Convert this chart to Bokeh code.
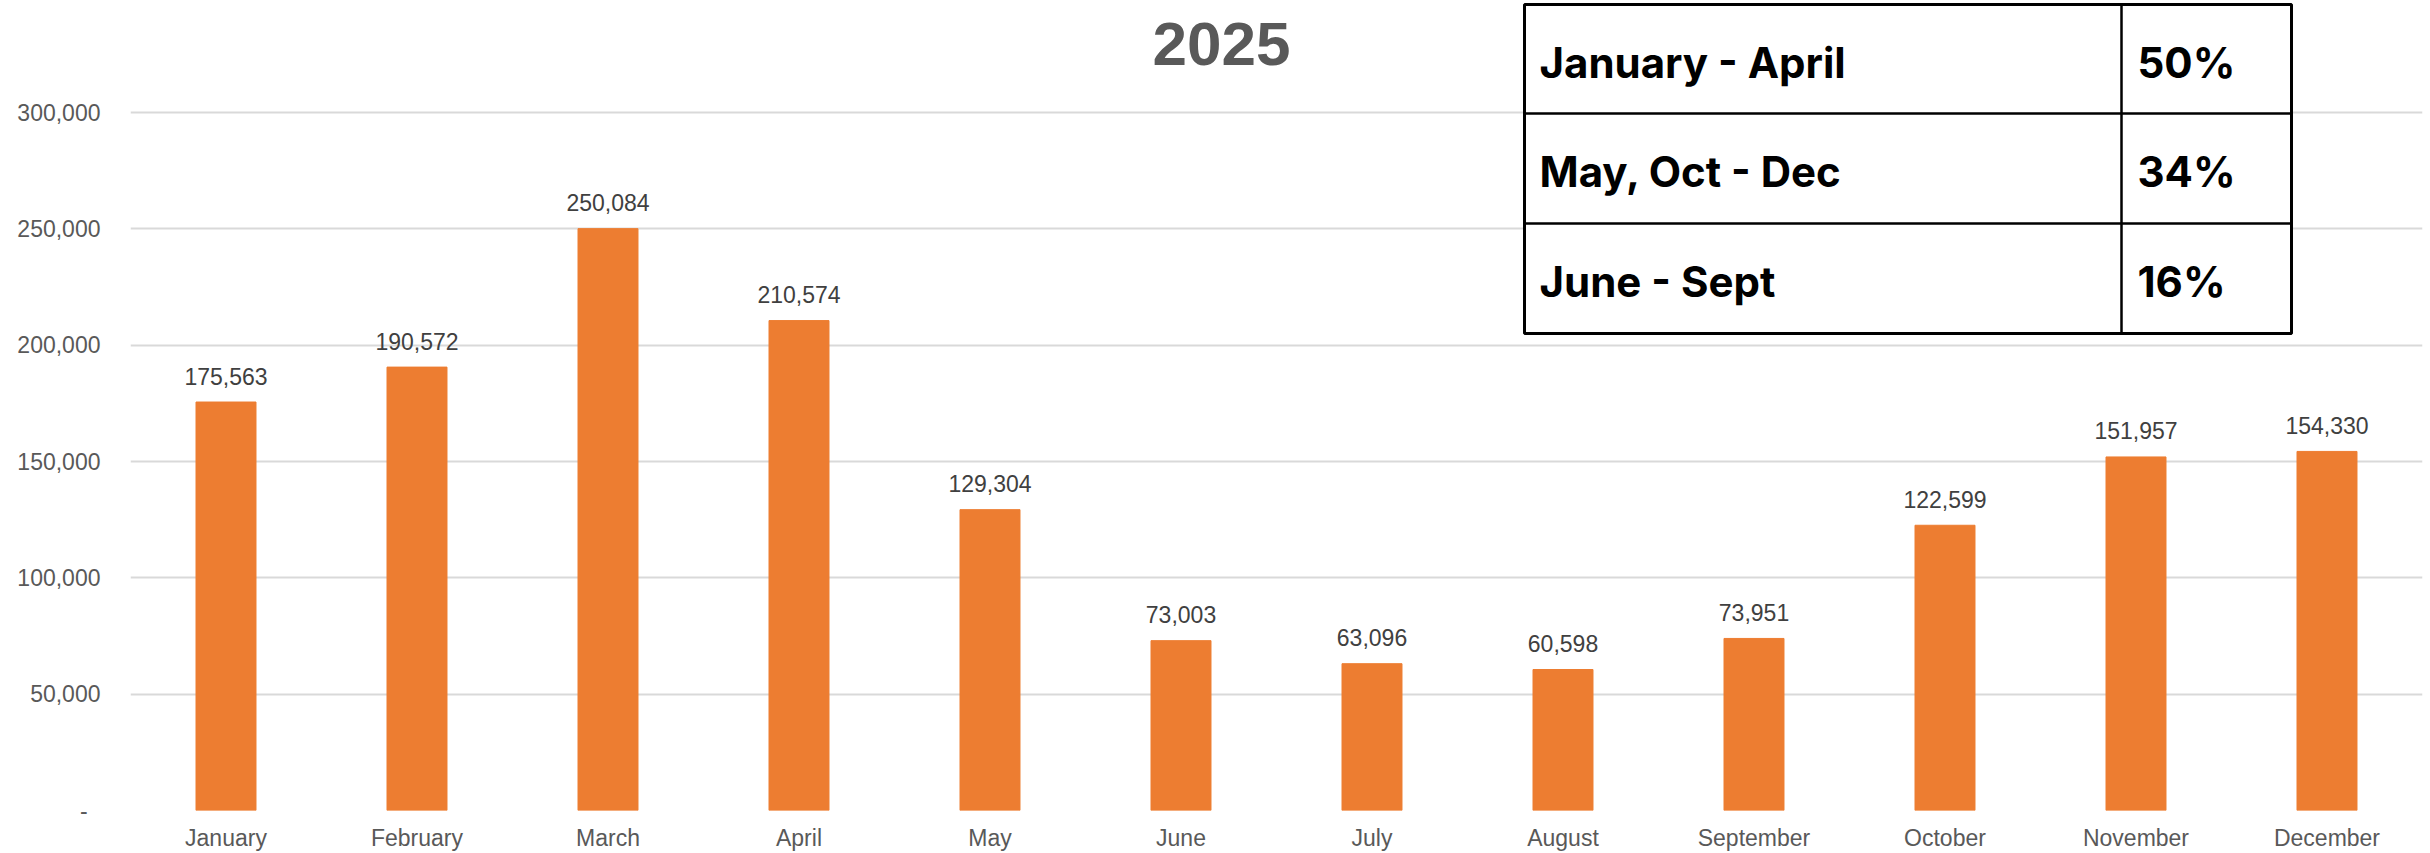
from bokeh.plotting import figure
from bokeh.models import FactorRange, Range1d, FixedTicker, NumeralTickFormatter, ColumnDataSource
from bokeh.core.properties import value
from bokeh.embed import file_html
from bokeh.resources import INLINE

# ---- data ----
months = ["January", "February", "March", "April", "May", "June", "July",
          "August", "September", "October", "November", "December"]
sales = [175563, 190572, 250084, 210574, 129304, 73003, 63096, 60598,
         73951, 122599, 151957, 154330]
y_ticks = [0, 50000, 100000, 150000, 200000, 250000, 300000]
title_text = "2025"
table_periods = ["January - April", "May, Oct - Dec", "June - Sept"]
table_shares = ["50%", "34%", "16%"]

# ---- layout constants (pixels) ----
W, H = 2430, 853
LEFT, RIGHT_PAD, BOTTOM = 130, 8, 43
FRAME_W = W - LEFT - RIGHT_PAD
FRAME_H = H - BOTTOM
Y_TOP_GRID_PX = 112  # canvas y of 300,000 gridline
units_per_px = 300000 / (FRAME_H - Y_TOP_GRID_PX)
y_end = FRAME_H * units_per_px


def py(canvas_y):
    return (FRAME_H - canvas_y) * units_per_px


def px(canvas_x):
    return (canvas_x - LEFT) / FRAME_W * len(months)


p = figure(width=W, height=H, x_range=FactorRange(factors=months, range_padding=0),
           y_range=Range1d(0, y_end), output_backend="svg", toolbar_location=None,
           min_border_left=LEFT, min_border_right=RIGHT_PAD, min_border_top=0,
           min_border_bottom=BOTTOM)
p.outline_line_color = None
p.background_fill_color = "white"
p.border_fill_color = "white"

src = ColumnDataSource(dict(month=months, sales=sales,
                            label=[f"{v:,}" for v in sales]))
p.vbar(x="month", top="sales", width=0.314, source=src, color="#ED7D31")
p.text(x="month", y="sales", text="label", source=src, text_align="center",
       text_baseline="alphabetic", y_offset=-26, text_font=value("Liberation Sans"),
       text_font_size="23px", text_color="#404040")

# axes
p.xgrid.grid_line_color = None
p.ygrid.grid_line_color = "#d9d9d9"
p.ygrid.grid_line_width = 2
p.yaxis.ticker = FixedTicker(ticks=y_ticks)
p.yaxis.formatter = NumeralTickFormatter(format="0,0")
p.yaxis.major_label_overrides = {0: "-\u00a0\u00a0"}
for ax in (p.xaxis[0], p.yaxis[0]):
    ax.axis_line_color = None
    ax.major_tick_line_color = None
    ax.minor_tick_line_color = None
    ax.major_tick_out = 0
    ax.major_tick_in = 0
    ax.major_label_text_font = "Liberation Sans"
    ax.major_label_text_font_size = "23px"
    ax.major_label_text_color = "#595959"
p.yaxis.major_label_standoff = 30
p.xaxis.major_label_standoff = 14

# title
p.text(x=[px(1221)], y=[py(43)], text=[title_text], text_align="center",
       text_baseline="middle", text_font=value("Liberation Sans"),
       text_font_style="bold", text_font_size="62px", text_color="#595959")

# table
t_left, t_right, t_div = px(1524), px(2291), px(2121)
row_edges = [4, 113, 223, 333]
p.quad(left=[t_left], right=[t_right], top=[py(row_edges[0])], bottom=[py(row_edges[-1])],
       fill_color="white", line_color="black", line_width=3)
p.segment(x0=[t_left, t_left, t_div], y0=[py(row_edges[1]), py(row_edges[2]), py(row_edges[0])],
          x1=[t_right, t_right, t_div], y1=[py(row_edges[1]), py(row_edges[2]), py(row_edges[-1])],
          line_color="black", line_width=2.5)
row_centers = [py((row_edges[i] + row_edges[i + 1]) / 2 + 3) for i in range(3)]
p.text(x=[px(1539)] * 3, y=row_centers, text=table_periods, text_align="left",
       text_baseline="middle", text_font=value("Inter"), text_font_style="bold",
       text_font_size="42px", text_color="black")
p.text(x=[px(2137)] * 3, y=row_centers, text=table_shares, text_align="left",
       text_baseline="middle", text_font=value("Inter"), text_font_style="bold",
       text_font_size="42px", text_color="black")

open("out.html", "w").write(file_html(p, INLINE))
